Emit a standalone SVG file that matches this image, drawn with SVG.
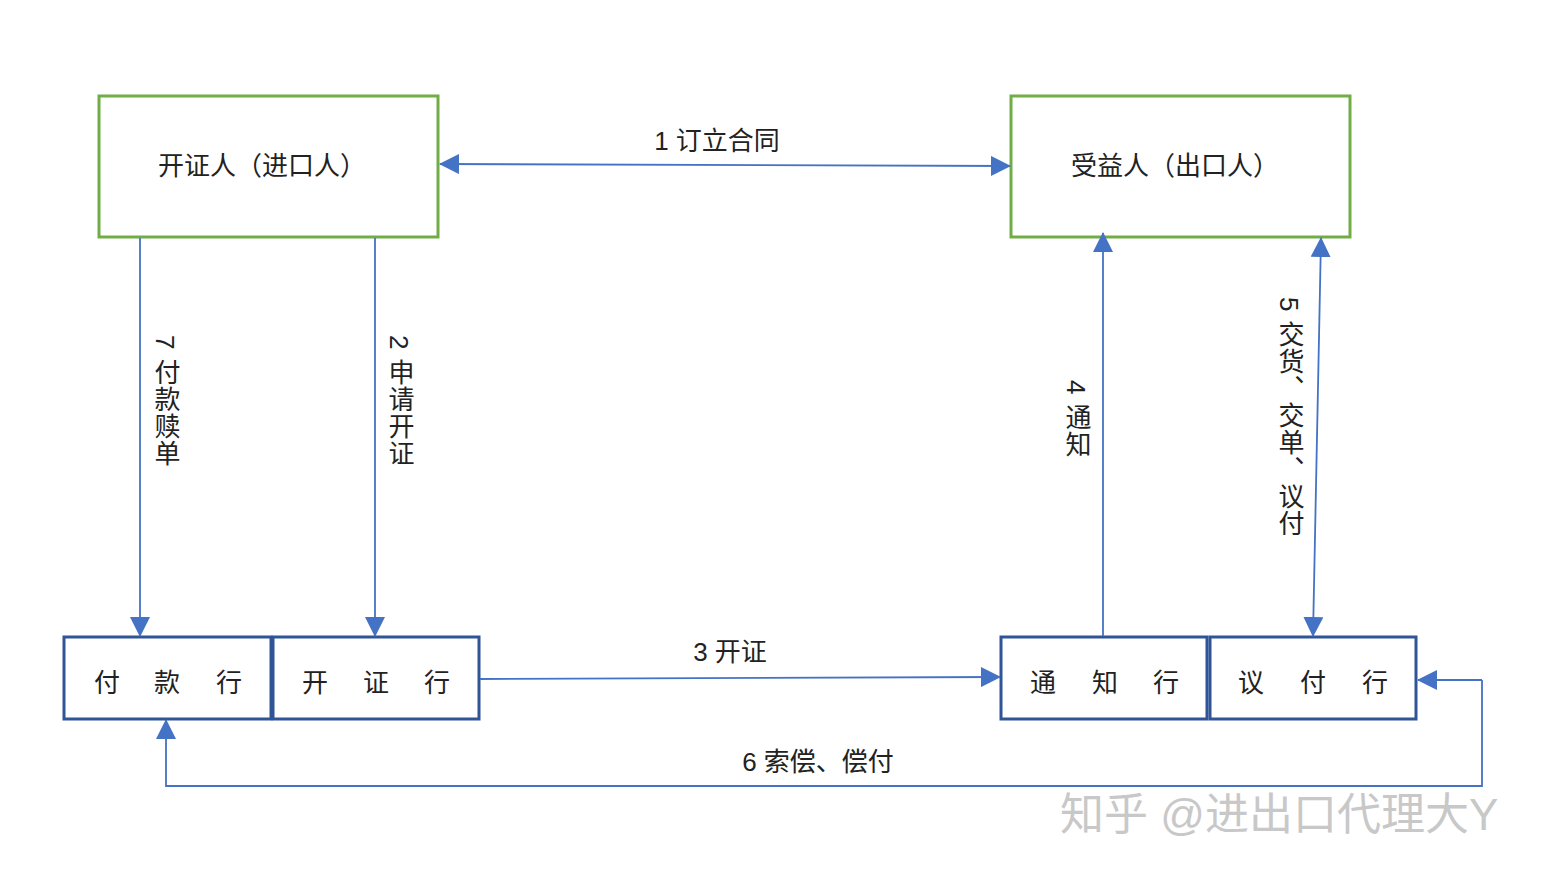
<svg xmlns="http://www.w3.org/2000/svg" width="1549" height="876" viewBox="0 0 1549 876">
<style>
text{font-family:"Liberation Sans","Noto Sans CJK SC",sans-serif;font-size:26px;fill:#222}
.g{fill:#fff;stroke:#70AD47;stroke-width:3}
.b{fill:#fff;stroke:#2F5597;stroke-width:3}
.c{fill:none;stroke:#4472C4;stroke-width:1.8}
.v{writing-mode:vertical-rl;letter-spacing:1px}
</style>
<defs>
<marker id="m" viewBox="0 0 20 20" refX="19" refY="10" markerWidth="20" markerHeight="20" orient="auto-start-reverse" markerUnits="userSpaceOnUse">
<path d="M0,0 L20,10 L0,20 z" fill="#4472C4"/>
</marker>
</defs>
<rect width="1549" height="876" fill="#fff"/>
<g id="n1"><rect class="g" x="99" y="96" width="339" height="141"/><text x="262" y="175" text-anchor="middle">开证人（进口人）</text></g>
<g id="n2"><rect class="g" x="1011" y="96" width="339" height="141"/><text x="1175" y="175" text-anchor="middle">受益人（出口人）</text></g>
<g id="n3"><rect class="b" x="64" y="637" width="207" height="82"/><text x="107 167 229" y="692" text-anchor="middle">付款行</text></g>
<g id="n4"><rect class="b" x="273" y="637" width="206" height="82"/><text x="315 376 437" y="692" text-anchor="middle">开证行</text></g>
<g id="n5"><rect class="b" x="1001" y="637" width="206" height="82"/><text x="1043 1105 1166" y="692" text-anchor="middle">通知行</text></g>
<g id="n6"><rect class="b" x="1210" y="637" width="206" height="82"/><text x="1251 1313 1375" y="692" text-anchor="middle">议付行</text></g>
<g id="connectors">
<path class="c" d="M440,164 L1010,166" marker-start="url(#m)" marker-end="url(#m)"/>
<path class="c" d="M140,238 L140,636" marker-end="url(#m)"/>
<path class="c" d="M375,238 L375,636" marker-end="url(#m)"/>
<path class="c" d="M480,679 L1000,677" marker-end="url(#m)"/>
<path class="c" d="M1103,636 L1103,233" marker-end="url(#m)"/>
<path class="c" d="M1313,636 L1321,238" marker-start="url(#m)" marker-end="url(#m)"/>
<path class="c" d="M1482,680 L1482,786 L166,786 L166,720" marker-end="url(#m)"/>
<path class="c" d="M1482,680 L1418,680" marker-end="url(#m)"/>
<text x="717" y="150" text-anchor="middle">1 订立合同</text>
<text x="730" y="661" text-anchor="middle">3 开证</text>
<text x="818" y="771" text-anchor="middle">6 索偿、偿付</text>
<text class="v" x="165" y="335">7 付款赎单</text>
<text class="v" x="399" y="335">2 申请开证</text>
<text class="v" x="1076" y="380">4 通知</text>
<text class="v" x="1289" y="297">5 交货、交单、议付</text>
</g>
<text x="1060" y="830" style="font-size:44px;fill:#c8c8c8">知乎 @进出口代理大Y</text>
</svg>
